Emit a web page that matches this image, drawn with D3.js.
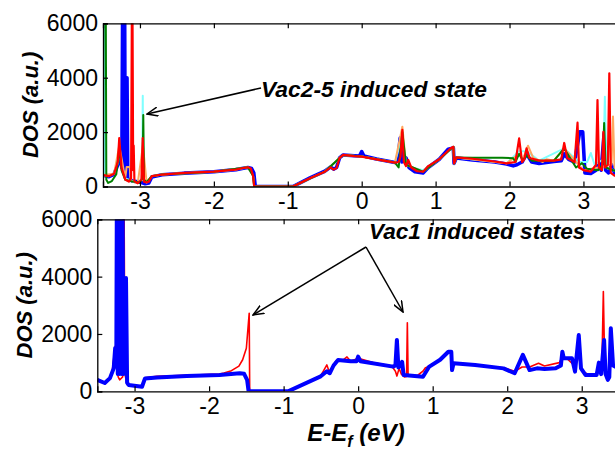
<!DOCTYPE html>
<html>
<head>
<meta charset="utf-8">
<script src="https://cdn.jsdelivr.net/npm/d3@7"></script>
<style>
  body { margin: 0; background: #fff; }
  svg { display: block; font-family: "Liberation Sans", Arial, sans-serif; }
</style>
</head>
<body>
<div id="chart"></div>
<script>
// ---- data (E - Ef in eV, DOS in a.u.) ----
const xTicks = [-3, -2, -1, 0, 1, 2, 3]
const yTicks = [0, 2000, 4000, 6000]

// top panel: vacancy configurations 2-5 and reference
const topBlue = [[-3.5,420],[-3.42,360],[-3.35,450],[-3.3,800],[-3.27,1200],[-3.245,700],[-3.23,9000],[-3.22,500],[-3.21,9000],[-3.2,600],[-3.19,4000],[-3.175,4000],[-3.165,300],[-3.1,200],[-3.0,160],[-2.93,100],[-2.88,130],[-2.84,350],[-2.7,430],[-2.4,490],[-2.0,540],[-1.7,620],[-1.6,670],[-1.54,700],[-1.49,660],[-1.46,500],[-1.44,0],[-0.93,0],[-0.7,320],[-0.5,560],[-0.42,720],[-0.38,640],[-0.34,700],[-0.3,1050],[-0.25,1160],[-0.1,1130],[-0.03,1120],[0,1280],[0.03,1120],[0.2,1010],[0.45,880],[0.49,950],[0.52,1780],[0.545,900],[0.6,1050],[0.64,700],[0.72,545],[0.83,500],[0.9,700],[1.05,1000],[1.17,1370],[1.24,1420],[1.25,850],[1.28,1050],[1.5,980],[1.8,900],[1.96,830],[2.05,760],[2.1,800],[2.17,900],[2.23,1200],[2.3,900],[2.4,850],[2.6,920],[2.7,950],[2.74,1200],[2.8,1000],[2.88,900],[2.95,2010],[2.99,2010],[3.02,500],[3.1,480],[3.17,600],[3.2,800],[3.24,600],[3.28,1960],[3.3,600],[3.34,500],[3.38,800],[3.42,500],[3.5,450]]
const topCyan = [[-3.5,400],[-3.485,400],[-3.48,6500],[-3.475,400],[-3.42,380],[-3.35,470],[-3.3,850],[-3.28,1500],[-3.25,700],[-3.2,300],[-3.1,200],[-3.03,150],[-2.97,300],[-2.962,3340],[-2.955,300],[-2.91,150],[-2.84,380],[-2.7,440],[-2.4,500],[-2.0,545],[-1.7,620],[-1.54,705],[-1.47,400],[-1.455,0],[-0.93,0],[-0.5,545],[-0.3,1050],[-0.25,1160],[0,1100],[0.45,880],[0.55,1900],[0.6,800],[0.75,650],[0.83,600],[1.05,1000],[1.24,1460],[1.25,850],[1.28,1070],[1.96,850],[2.13,1300],[2.23,1300],[2.4,950],[2.74,1400],[2.9,1000],[2.95,900],[3.05,900],[3.1,1230],[3.15,800],[3.27,1000],[3.29,3300],[3.31,700],[3.5,500]]
const topOrange = [[-3.5,420],[-3.35,470],[-3.28,1500],[-3.2,300],[-3.18,720],[-3.14,720],[-3.12,200],[-3.03,120],[-2.96,1500],[-2.91,150],[-2.84,380],[-2.7,440],[-2.0,545],[-1.54,705],[-1.47,400],[-1.455,0],[-0.93,0],[-0.5,545],[-0.3,1050],[-0.25,1160],[0,1100],[0.45,880],[0.55,2200],[0.6,800],[0.83,545],[1.05,1000],[1.24,1460],[1.25,850],[1.28,1070],[1.96,850],[2.13,1200],[2.18,1000],[2.25,1500],[2.32,1050],[2.45,900],[2.5,1000],[2.6,950],[2.74,1400],[2.9,900],[3.0,600],[3.2,700],[3.38,800],[3.4,2570],[3.42,700],[3.5,500]]
const topGreen = [[-3.5,400],[-3.49,9000],[-3.465,9000],[-3.455,250],[-3.43,130],[-3.38,200],[-3.32,450],[-3.28,1400],[-3.25,600],[-3.2,250],[-3.1,180],[-3.0,150],[-2.965,300],[-2.955,2630],[-2.945,250],[-2.91,160],[-2.84,380],[-2.7,440],[-2.0,545],[-1.54,705],[-1.47,400],[-1.455,0],[-0.93,0],[-0.5,545],[-0.3,1050],[-0.25,1160],[0,1100],[0.45,880],[0.5,700],[0.55,2000],[0.6,800],[0.83,545],[1.05,1000],[1.24,1460],[1.25,850],[1.28,1070],[1.5,1060],[1.9,1060],[2.05,1040],[2.08,900],[2.13,1200],[2.18,950],[2.23,1150],[2.3,950],[2.6,950],[2.74,1400],[2.9,700],[2.98,860],[3.05,650],[3.2,600],[3.26,800],[3.28,2330],[3.3,700],[3.5,500]]
const topRed = [[-3.5,420],[-3.42,380],[-3.35,470],[-3.3,900],[-3.28,1780],[-3.25,700],[-3.2,260],[-3.15,180],[-3.12,300],[-3.105,9000],[-3.092,600],[-3.085,1500],[-3.075,200],[-3.03,120],[-2.98,250],[-2.963,1780],[-2.945,180],[-2.91,150],[-2.88,180],[-2.84,380],[-2.7,440],[-2.4,500],[-2.0,545],[-1.7,620],[-1.6,680],[-1.54,705],[-1.5,660],[-1.47,400],[-1.455,0],[-0.93,0],[-0.7,300],[-0.5,545],[-0.42,700],[-0.38,620],[-0.34,680],[-0.3,1050],[-0.25,1160],[-0.1,1120],[0,1100],[0.2,1000],[0.45,880],[0.5,900],[0.525,1100],[0.55,2080],[0.57,900],[0.6,750],[0.63,975],[0.67,700],[0.75,560],[0.83,545],[0.9,750],[1.05,1000],[1.2,1400],[1.24,1460],[1.25,850],[1.28,1070],[1.5,1020],[1.8,920],[1.96,850],[2.08,900],[2.13,1770],[2.17,900],[2.2,1000],[2.23,1400],[2.27,1050],[2.4,950],[2.6,950],[2.7,1000],[2.74,1600],[2.78,1050],[2.88,900],[2.92,2345],[2.94,700],[3.0,600],[3.1,545],[3.17,800],[3.19,3180],[3.21,700],[3.25,600],[3.27,2010],[3.29,700],[3.33,800],[3.35,4160],[3.37,500],[3.42,400],[3.5,400]]

// bottom panel: single vacancy (red) and pristine (blue)
const botRed = [[-3.5,400],[-3.45,330],[-3.4,270],[-3.35,400],[-3.3,700],[-3.26,1570],[-3.24,800],[-3.22,500],[-3.2,400],[-3.16,500],[-3.145,9000],[-3.13,600],[-3.1,250],[-3.0,180],[-2.9,150],[-2.86,470],[-2.7,520],[-2.3,560],[-1.86,600],[-1.8,640],[-1.7,720],[-1.6,880],[-1.55,1100],[-1.5,1500],[-1.475,2300],[-1.462,2720],[-1.455,0],[-0.94,0],[-0.7,280],[-0.51,500],[-0.42,920],[-0.39,700],[-0.35,800],[-0.3,1050],[-0.2,1100],[-0.15,1200],[-0.1,1050],[0,1150],[0.2,1000],[0.45,880],[0.5,700],[0.52,530],[0.55,800],[0.58,600],[0.62,500],[0.65,520],[0.66,2390],[0.67,600],[0.7,540],[0.8,560],[0.87,700],[0.9,810],[1.05,1000],[1.2,1350],[1.25,1350],[1.26,800],[1.28,975],[1.5,930],[1.95,820],[2.1,700],[2.2,850],[2.3,850],[2.42,980],[2.5,880],[2.7,1000],[2.74,1200],[2.8,1150],[2.9,900],[2.95,1300],[2.97,1100],[3.0,700],[3.1,580],[3.2,580],[3.24,1000],[3.27,800],[3.29,3480],[3.31,600],[3.35,450],[3.4,1000],[3.5,700]]
const botBlue = [[-3.5,395],[-3.4,290],[-3.33,460],[-3.28,800],[-3.26,1510],[-3.245,1000],[-3.235,9000],[-3.225,600],[-3.215,9000],[-3.2,600],[-3.19,9000],[-3.175,600],[-3.165,9000],[-3.15,600],[-3.14,3950],[-3.125,1000],[-3.115,3950],[-3.1,300],[-3.08,220],[-2.9,160],[-2.86,450],[-2.7,480],[-2.3,530],[-1.86,570],[-1.59,630],[-1.53,610],[-1.49,400],[-1.47,0],[-0.94,0],[-0.51,510],[-0.42,700],[-0.38,630],[-0.33,900],[-0.27,1090],[-0.1,1050],[-0.02,1050],[0,1210],[0.03,1050],[0.47,860],[0.5,900],[0.52,1790],[0.54,830],[0.57,900],[0.59,1030],[0.61,570],[0.87,510],[0.95,850],[1.1,1100],[1.21,1380],[1.25,1380],[1.26,740],[1.28,975],[1.57,920],[1.95,800],[2.1,630],[2.21,1270],[2.3,740],[2.4,800],[2.5,780],[2.65,800],[2.72,900],[2.74,1380],[2.76,1150],[2.87,1150],[2.91,685],[2.96,1960],[2.99,800],[3.05,570],[3.2,570],[3.23,1000],[3.26,600],[3.3,1790],[3.32,600],[3.35,400],[3.37,500],[3.39,2200],[3.42,900],[3.5,800]]

const svg = d3.select('#chart').append('svg')
  .attr('width', 615)
  .attr('height', 452)

const font = '"Liberation Sans", Arial, sans-serif'

function panel(id, box, series, labelX) {
  const x = d3.scaleLinear().domain([-3.5, 3.5]).range([box.left, box.right])
  const y = d3.scaleLinear().domain([0, 6000]).range([box.bottom, box.top])

  svg.append('clipPath').attr('id', 'clip' + id)
    .append('rect')
    .attr('x', box.left).attr('y', box.top)
    .attr('width', box.right - box.left).attr('height', box.bottom - box.top)

  const line = d3.line().x(d => x(d[0])).y(d => y(d[1]))
  const g = svg.append('g').attr('clip-path', `url(#clip${id})`)
  series.forEach(s => {
    g.append('path')
      .datum(s.data)
      .attr('fill', 'none')
      .attr('stroke', s.color)
      .attr('stroke-width', s.width)
      .attr('stroke-linejoin', 'round')
      .attr('d', line)
  })

  // axes, MATLAB style: ticks inside, box around
  const axes = svg.append('g').attr('font-family', font)
  axes.append('g')
    .attr('transform', `translate(0, ${box.bottom})`)
    .call(d3.axisBottom(x).tickValues(xTicks).tickSize(-5).tickPadding(6).tickFormat(d => String(d)))
  axes.append('g')
    .attr('transform', `translate(0, ${box.top})`)
    .call(d3.axisTop(x).tickValues(xTicks).tickSize(-5).tickFormat(''))
  axes.append('g')
    .attr('transform', `translate(${box.left}, 0)`)
    .call(d3.axisLeft(y).tickValues(yTicks).tickSize(-5).tickPadding(5).tickFormat(d3.format('d')))
  axes.selectAll('.domain').attr('stroke', '#000').attr('stroke-width', 1.3)
  axes.selectAll('.tick line').attr('stroke', '#000').attr('stroke-width', 1.2)
  axes.selectAll('.tick text').attr('font-size', 23).attr('fill', '#000')

  svg.append('text')
    .attr('transform', `translate(${labelX}, ${(box.top + box.bottom) / 2}) rotate(-90)`)
    .attr('text-anchor', 'middle')
    .attr('font-family', font)
    .attr('font-size', 22)
    .attr('font-weight', 'bold')
    .attr('font-style', 'italic')
    .text('DOS (a.u.)')
  return {x, y}
}

panel('top', {left: 103, right: 620.4, top: 23.3, bottom: 186.5}, [
  {data: topBlue, color: '#0000ff', width: 3.6},
  {data: topCyan, color: '#80ffff', width: 2},
  {data: topOrange, color: '#ffa860', width: 2},
  {data: topGreen, color: '#008000', width: 2},
  {data: topRed, color: '#ff0000', width: 2.2},
], 38)

panel('bot', {left: 97.3, right: 619, top: 219.3, bottom: 391.3}, [
  {data: botRed, color: '#ff0000', width: 1.6},
  {data: botBlue, color: '#0000ff', width: 4},
], 32)

// x label
const xl = svg.append('text')
  .attr('x', 356).attr('y', 440.5)
  .attr('text-anchor', 'middle')
  .attr('font-family', font)
  .attr('font-size', 24)
  .attr('font-weight', 'bold')
  .attr('font-style', 'italic')
xl.append('tspan').text('E-E')
xl.append('tspan').attr('font-size', 16).attr('dy', 6).text('f')
xl.append('tspan').attr('dy', -6).text(' (eV)')

// annotations
svg.append('defs').append('marker')
  .attr('id', 'arrow')
  .attr('viewBox', '0 0 12 10')
  .attr('refX', 11).attr('refY', 5)
  .attr('markerWidth', 12).attr('markerHeight', 10)
  .attr('markerUnits', 'userSpaceOnUse')
  .attr('orient', 'auto')
  .append('path')
  .attr('d', 'M0,0.5 L11,5 L0,9.5')
  .attr('fill', 'none')
  .attr('stroke', '#000')
  .attr('stroke-width', 1.5)

function arrow(x1, y1, x2, y2) {
  svg.append('line')
    .attr('x1', x1).attr('y1', y1).attr('x2', x2).attr('y2', y2)
    .attr('stroke', '#000').attr('stroke-width', 1.5)
    .attr('marker-end', 'url(#arrow)')
}

function note(txt, x, y, size) {
  svg.append('text')
    .attr('x', x).attr('y', y)
    .attr('font-family', font)
    .attr('font-size', size)
    .attr('font-weight', 'bold')
    .attr('font-style', 'italic')
    .text(txt)
}

note('Vac2-5 induced state', 261, 97, 22.8)
arrow(261, 88, 147, 114)

note('Vac1 induced states', 369, 239, 22.6)
arrow(366, 247, 253, 315)
arrow(366, 247, 403, 312)
</script>
</body>
</html>
